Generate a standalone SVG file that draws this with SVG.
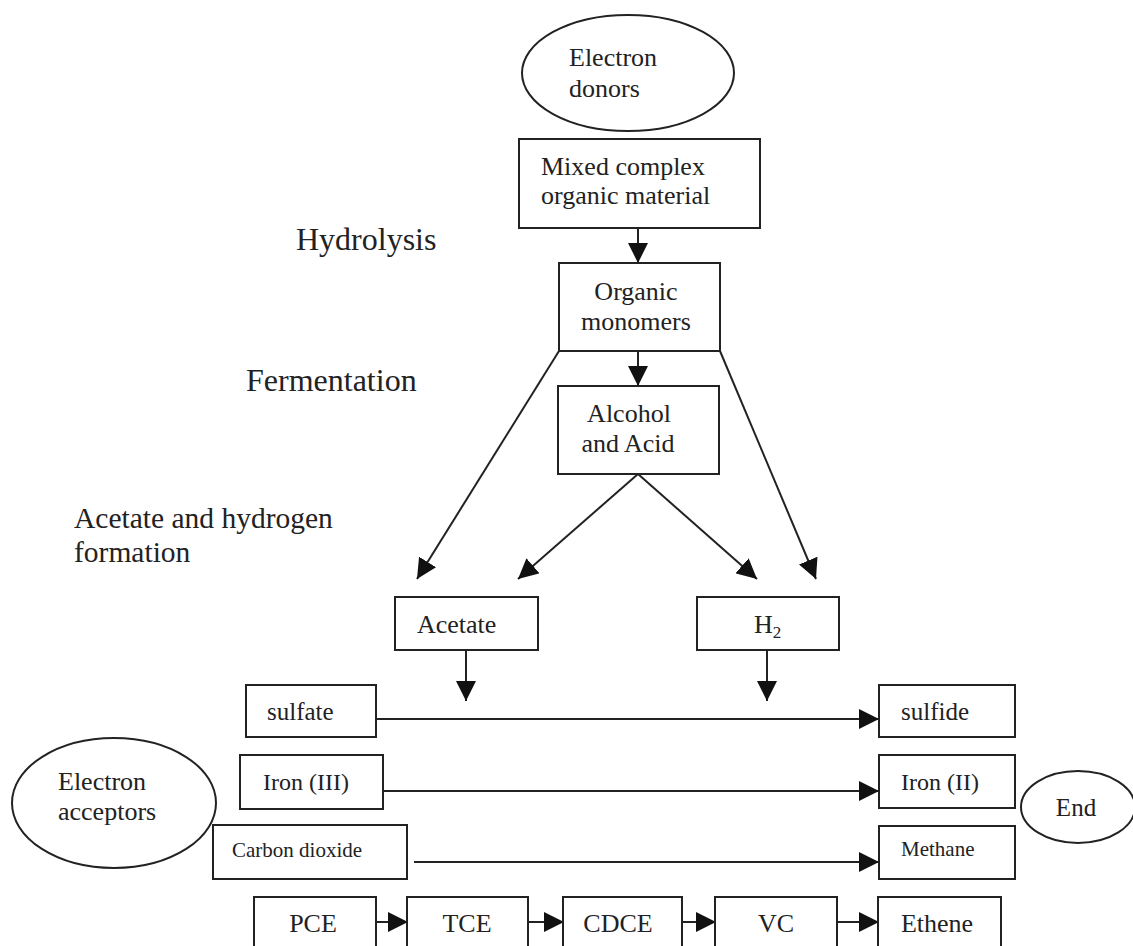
<svg xmlns="http://www.w3.org/2000/svg" width="1133" height="946" viewBox="0 0 1133 946">
<style>
.box{fill:#fff;stroke:#222;stroke-width:2}
.t{font-family:"Liberation Serif","Times New Roman",serif;fill:#222;font-size:26px}
.lbl{font-family:"Liberation Serif","Times New Roman",serif;fill:#222;font-size:32px}
.c{text-anchor:middle}
.edge{stroke:#222;stroke-width:2;fill:none}
</style>
<defs>
<marker id="ah" markerUnits="userSpaceOnUse" markerWidth="20" markerHeight="20" refX="20" refY="10" orient="auto">
<path d="M0,0 L20,10 L0,20 z" fill="#111"/>
</marker>
</defs>
<rect width="1133" height="946" fill="#fff"/>

<g id="labels">
<text class="lbl" x="296" y="250">Hydrolysis</text>
<text class="lbl" x="246" y="391">Fermentation</text>
<text class="lbl" x="74" y="528" style="font-size:29.5px">Acetate and hydrogen</text>
<text class="lbl" x="74" y="562" style="font-size:29.5px">formation</text>
</g>

<g id="connectors">
<line class="edge" x1="638" y1="228" x2="638" y2="263" marker-end="url(#ah)"/>
<line class="edge" x1="638" y1="351" x2="638" y2="386" marker-end="url(#ah)"/>
<line class="edge" x1="559" y1="351" x2="417" y2="579" marker-end="url(#ah)"/>
<line class="edge" x1="638" y1="474" x2="518" y2="579" marker-end="url(#ah)"/>
<line class="edge" x1="638" y1="474" x2="757" y2="579" marker-end="url(#ah)"/>
<line class="edge" x1="720" y1="351" x2="816" y2="579" marker-end="url(#ah)"/>
<line class="edge" x1="466" y1="650" x2="466" y2="701" marker-end="url(#ah)"/>
<line class="edge" x1="767" y1="650" x2="767" y2="701" marker-end="url(#ah)"/>
<line class="edge" x1="376" y1="719" x2="879" y2="719" marker-end="url(#ah)"/>
<line class="edge" x1="383" y1="791" x2="879" y2="791" marker-end="url(#ah)"/>
<line class="edge" x1="414" y1="862" x2="879" y2="862" marker-end="url(#ah)"/>
<line class="edge" x1="376" y1="922" x2="408" y2="922" marker-end="url(#ah)"/>
<line class="edge" x1="528" y1="922" x2="564" y2="922" marker-end="url(#ah)"/>
<line class="edge" x1="682" y1="922" x2="716" y2="922" marker-end="url(#ah)"/>
<line class="edge" x1="837" y1="922" x2="879" y2="922" marker-end="url(#ah)"/>
</g>

<g id="electron-donors">
<ellipse class="box" cx="628" cy="73" rx="106" ry="58"/>
<text class="t" x="569" y="66">Electron</text>
<text class="t" x="569" y="97">donors</text>
</g>
<g id="mixed-complex">
<rect class="box" x="519" y="139" width="241" height="89"/>
<text class="t" x="541" y="175">Mixed complex</text>
<text class="t" x="541" y="204">organic material</text>
</g>
<g id="organic-monomers">
<rect class="box" x="559" y="263" width="161" height="88"/>
<text class="t c" x="636" y="300">Organic</text>
<text class="t c" x="636" y="330">monomers</text>
</g>
<g id="alcohol-acid">
<rect class="box" x="558" y="386" width="161" height="88"/>
<text class="t c" x="629" y="422">Alcohol</text>
<text class="t c" x="628" y="452">and Acid</text>
</g>
<g id="acetate">
<rect class="box" x="395" y="597" width="143" height="53"/>
<text class="t" x="417" y="633">Acetate</text>
</g>
<g id="h2">
<rect class="box" x="697" y="597" width="142" height="53"/>
<text class="t" x="754" y="633">H<tspan font-size="17" dy="5">2</tspan></text>
</g>
<g id="sulfate">
<rect class="box" x="246" y="685" width="130" height="52"/>
<text class="t" x="267" y="720" style="font-size:25px">sulfate</text>
</g>
<g id="sulfide">
<rect class="box" x="879" y="685" width="136" height="52"/>
<text class="t" x="901" y="720" style="font-size:25px">sulfide</text>
</g>
<g id="electron-acceptors">
<ellipse class="box" cx="114" cy="803" rx="102" ry="65"/>
<text class="t" x="58" y="790">Electron</text>
<text class="t" x="58" y="820">acceptors</text>
</g>
<g id="iron-iii">
<rect class="box" x="240" y="755" width="143" height="54"/>
<text class="t" x="263" y="790" style="font-size:24px">Iron (III)</text>
</g>
<g id="iron-ii">
<rect class="box" x="879" y="755" width="136" height="53"/>
<text class="t" x="901" y="790" style="font-size:24px">Iron (II)</text>
</g>
<g id="end">
<ellipse class="box" cx="1078" cy="807" rx="57" ry="36"/>
<text class="t c" x="1076" y="816" style="font-size:25px">End</text>
</g>
<g id="carbon-dioxide">
<rect class="box" x="213" y="825" width="194" height="54"/>
<text class="t" x="232" y="857" style="font-size:21px">Carbon dioxide</text>
</g>
<g id="methane">
<rect class="box" x="879" y="826" width="136" height="53"/>
<text class="t" x="901" y="856" style="font-size:21px">Methane</text>
</g>
<g id="pce">
<rect class="box" x="254" y="897" width="122" height="60"/>
<text class="t c" x="313" y="932">PCE</text>
</g>
<g id="tce">
<rect class="box" x="407" y="897" width="121" height="60"/>
<text class="t c" x="467" y="932">TCE</text>
</g>
<g id="cdce">
<rect class="box" x="563" y="897" width="119" height="60"/>
<text class="t c" x="618" y="932">CDCE</text>
</g>
<g id="vc">
<rect class="box" x="715" y="897" width="122" height="60"/>
<text class="t c" x="776" y="932">VC</text>
</g>
<g id="ethene">
<rect class="box" x="878" y="897" width="123" height="60"/>
<text class="t c" x="937" y="932">Ethene</text>
</g>
</svg>
